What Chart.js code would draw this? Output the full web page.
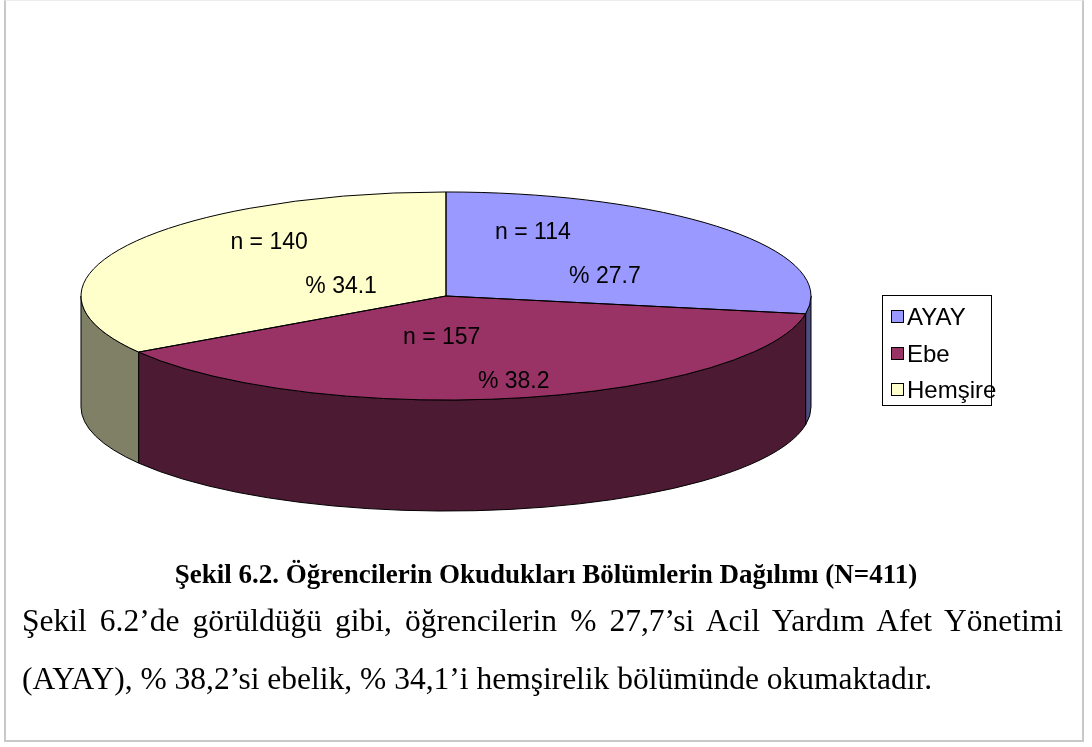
<!DOCTYPE html>
<html>
<head>
<meta charset="utf-8">
<script src="https://cdn.jsdelivr.net/npm/chart.js@4/dist/chart.umd.min.js"></script>
<style>
  html, body { margin: 0; padding: 0; background: #fff; }
  #wrap { position: relative; width: 1092px; height: 747px; overflow: hidden; }
  #frame { position: absolute; left: 4px; top: 0; width: 1080px; height: 742px;
    border-left: 2px solid #c8c8c8; border-right: 2px solid #c8c8c8;
    border-bottom: 2px solid #c8c8c8; border-top: 1px solid #ececec; box-sizing: border-box; }
  canvas { position: absolute; left: 0; top: 0; }
  #legend { position: absolute; left: 882px; top: 295px; width: 110px; height: 111px;
    border: 1px solid #000; box-sizing: border-box; font: 24px "Liberation Sans", Arial, sans-serif; }
  #legend .item { position: absolute; left: 8px; white-space: nowrap; line-height: 26px; }
  #legend .sw { display: inline-block; width: 11px; height: 11px; border: 1px solid #000;
    margin-right: 3px; vertical-align: 2px; }
  .caption { position: absolute; left: 0; width: 1092px; text-align: center; top: 559px;
    white-space: nowrap; font: bold 27px "Liberation Serif", "Times New Roman", serif; }
  .body { position: absolute; left: 22px; white-space: nowrap;
    font: 31.5px "Liberation Serif", "Times New Roman", serif; }
  .just { width: 1041px; white-space: normal; text-align: justify; text-align-last: justify; }
</style>
</head>
<body>
<div id="wrap">
  <div id="frame"></div>
  <canvas id="pieChart" width="1092" height="747"></canvas>
  <div id="legend"></div>
  <div class="caption">Şekil 6.2. Öğrencilerin Okudukları Bölümlerin Dağılımı (N=411)</div>
  <div class="body just" style="top:603px">Şekil 6.2’de görüldüğü gibi, öğrencilerin % 27,7’si Acil Yardım Afet Yönetimi</div>
  <div class="body" style="top:661px">(AYAY), % 38,2’si ebelik, % 34,1’i hemşirelik bölümünde okumaktadır.</div>
</div>
<script>
// data
const labels = ["AYAY", "Ebe", "Hemşire"];
const counts = [114, 157, 140];
const percents = ["27.7", "38.2", "34.1"];
const colors = ["#9999FF", "#993366", "#FFFFCC"];

// tampilan 3D
const TILT = 0.285;     // perbandingan tinggi/lebar elips
const DEPTH = 111;      // tebal sisi pie
const TOP_Y = 296;      // pusat elips atas di layar

function darker(hex) {
  const n = parseInt(hex.slice(1), 16);
  const r = Math.round(((n >> 16) & 255) / 2);
  const g = Math.round(((n >> 8) & 255) / 2);
  const b = Math.round((n & 255) / 2);
  return `rgb(${r},${g},${b})`;
}

// legend html
const legendBox = document.getElementById("legend");
labels.forEach((lab, i) => {
  const el = document.createElement("div");
  el.className = "item";
  el.style.top = (8 + i * 36.5) + "px";
  el.innerHTML = `<span class="sw" style="background:${colors[i]}"></span>${lab}`;
  legendBox.appendChild(el);
});

const pie3d = {
  id: "pie3d",
  beforeDatasetsDraw(chart) {
    const ctx = chart.ctx;
    const arcs = chart.getDatasetMeta(0).data;
    const cx = arcs[0].x, cy = arcs[0].y, r = arcs[0].outerRadius;
    const ry = r * TILT;

    // sisi depan (hanya sudut 0..PI yang terlihat)
    arcs.forEach((arc, i) => {
      const s = Math.max(arc.startAngle, 0);
      const e = Math.min(arc.endAngle, Math.PI);
      if (e <= s) return;
      ctx.beginPath();
      ctx.ellipse(cx, TOP_Y, r, ry, 0, s, e);
      ctx.lineTo(cx + r * Math.cos(e), TOP_Y + DEPTH + ry * Math.sin(e));
      ctx.ellipse(cx, TOP_Y + DEPTH, r, ry, 0, e, s, true);
      ctx.closePath();
      ctx.fillStyle = darker(colors[i]);
      ctx.fill();
      ctx.lineWidth = 1;
      ctx.strokeStyle = "#000";
      ctx.stroke();
    });

    // tekan lingkaran jadi elips
    ctx.save();
    ctx.translate(0, TOP_Y);
    ctx.scale(1, TILT);
    ctx.translate(0, -cy);
  },
  afterDatasetsDraw(chart) {
    const ctx = chart.ctx;
    ctx.restore();
    const arcs = chart.getDatasetMeta(0).data;
    const cx = arcs[0].x, cy = arcs[0].y, r = arcs[0].outerRadius;
    const ry = r * TILT;

    // garis tepi irisan atas
    arcs.forEach(arc => {
      ctx.save();
      ctx.translate(0, TOP_Y);
      ctx.scale(1, TILT);
      ctx.translate(0, -cy);
      ctx.beginPath();
      ctx.moveTo(cx, cy);
      ctx.arc(cx, cy, r, arc.startAngle, arc.endAngle);
      ctx.closePath();
      ctx.restore();
      ctx.lineWidth = 1;
      ctx.strokeStyle = "#000";
      ctx.stroke();
    });

    // label n dan %
    ctx.font = '23px "Liberation Sans", Arial, sans-serif';
    ctx.fillStyle = "#000";
    ctx.textAlign = "center";
    ctx.textBaseline = "middle";
    arcs.forEach((arc, i) => {
      const mid = (arc.startAngle + arc.endAngle) / 2;
      const ax = cx + 0.44 * r * Math.cos(mid);
      const ay = TOP_Y + 0.62 * ry * Math.sin(mid);
      ctx.fillText("n = " + counts[i], ax - 36, ay - 22);
      ctx.fillText("% " + percents[i], ax + 36, ay + 22);
    });
  }
};

const ctx = document.getElementById("pieChart").getContext("2d");
new Chart(ctx, {
  type: "pie",
  data: {
    labels: labels,
    datasets: [{
      data: counts,
      backgroundColor: colors,
      borderWidth: 0
    }]
  },
  options: {
    responsive: false,
    animation: false,
    events: [],
    layout: { padding: { left: 80, right: 280, top: 8, bottom: 9 } },
    plugins: { legend: { display: false }, tooltip: { enabled: false } }
  },
  plugins: [pie3d]
});
</script>
</body>
</html>
